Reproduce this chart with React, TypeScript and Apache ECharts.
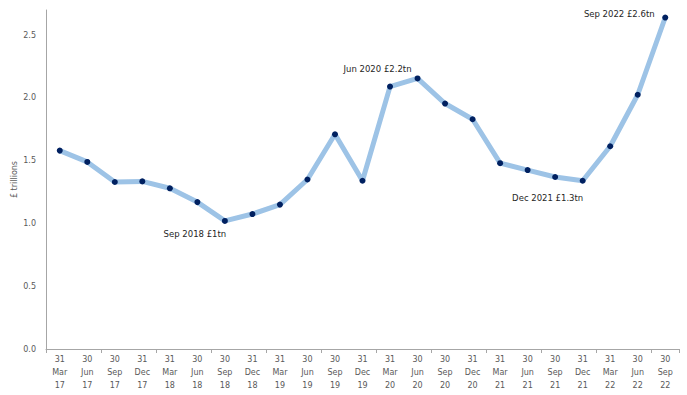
import React, { useEffect, useRef } from "react";
import * as echarts from "echarts";

const categories = [
  "31\nMar\n17", "30\nJun\n17", "30\nSep\n17", "31\nDec\n17",
  "31\nMar\n18", "30\nJun\n18", "30\nSep\n18", "31\nDec\n18",
  "31\nMar\n19", "30\nJun\n19", "30\nSep\n19", "31\nDec\n19",
  "31\nMar\n20", "30\nJun\n20", "30\nSep\n20", "31\nDec\n20",
  "31\nMar\n21", "30\nJun\n21", "30\nSep\n21", "31\nDec\n21",
  "31\nMar\n22", "30\nJun\n22", "30\nSep\n22",
];
const values = [
  1.58, 1.49, 1.33, 1.335, 1.28, 1.17, 1.02, 1.075, 1.15, 1.35, 1.71, 1.34,
  2.09, 2.155, 1.955, 1.83, 1.48, 1.425, 1.37, 1.34, 1.615, 2.025, 2.64,
];
const annotations: { index: number; text: string; offset: [number, number] }[] = [
  { index: 6, text: "Sep 2018 £1tn", offset: [-30, 13] },
  { index: 13, text: "Jun 2020 £2.2tn", offset: [-40, -9] },
  { index: 19, text: "Dec 2021 £1.3tn", offset: [-35, 17] },
  { index: 22, text: "Sep 2022 £2.6tn", offset: [-46, -4] },
];
const yTicks = [0, 0.5, 1, 1.5, 2, 2.5];

export default function App() {
  const ref = useRef<HTMLDivElement>(null);
  useEffect(() => {
    if (!ref.current) return;
    const chart = echarts.init(ref.current, undefined, { renderer: "svg" });
    const font = "DejaVu Sans";
    const data = values.map((v, i) => {
      const a = annotations.find((x) => x.index === i);
      if (!a) return v;
      return {
        value: v,
        label: {
          show: true,
          formatter: a.text,
          position: "inside",
          offset: a.offset,
          color: "#262626",
          fontSize: 8.5,
          fontFamily: font,
        },
      };
    });
    chart.setOption({
      animation: false,
      grid: { left: 46, right: 8, top: 10, bottom: 46, containLabel: false, outerBoundsMode: "none" },
      xAxis: {
        type: "category",
        data: categories,
        boundaryGap: true,
        axisLine: { lineStyle: { color: "#a6a6a6" } },
        axisTick: { show: true, interval: 1, length: 4, lineStyle: { color: "#a6a6a6" } },
        axisLabel: {
          interval: 0,
          color: "#595959",
          fontSize: 8,
          fontFamily: font,
          lineHeight: 13,
          margin: 4,
        },
      },
      yAxis: {
        type: "value",
        min: 0,
        max: 2.7,
        interval: 0.5,
        name: "£ trillions",
        nameLocation: "middle",
        nameGap: 28,
        nameMoveOverlap: false,
        nameTextStyle: { color: "#595959", fontSize: 8, fontFamily: font },
        axisLine: { show: true, lineStyle: { color: "#a6a6a6" } },
        axisTick: { show: false },
        splitLine: { show: false },
        axisLabel: {
          color: "#595959",
          fontSize: 8,
          fontFamily: font,
          margin: 10,
          formatter: (v: number) => (yTicks.includes(v) ? v.toFixed(1) : ""),
        },
      },
      series: [
        {
          type: "line",
          data,
          symbol: "circle",
          symbolSize: 6,
          lineStyle: { color: "#9dc3e6", width: 5 },
          itemStyle: { color: "#002060" },
          label: { show: false },
          emphasis: { disabled: true },
        },
      ],
    });
    return () => chart.dispose();
  }, []);
  return (
    <div
      ref={ref}
      style={{ position: "absolute", left: 0, top: 0, width: 687, height: 395 }}
    />
  );
}
